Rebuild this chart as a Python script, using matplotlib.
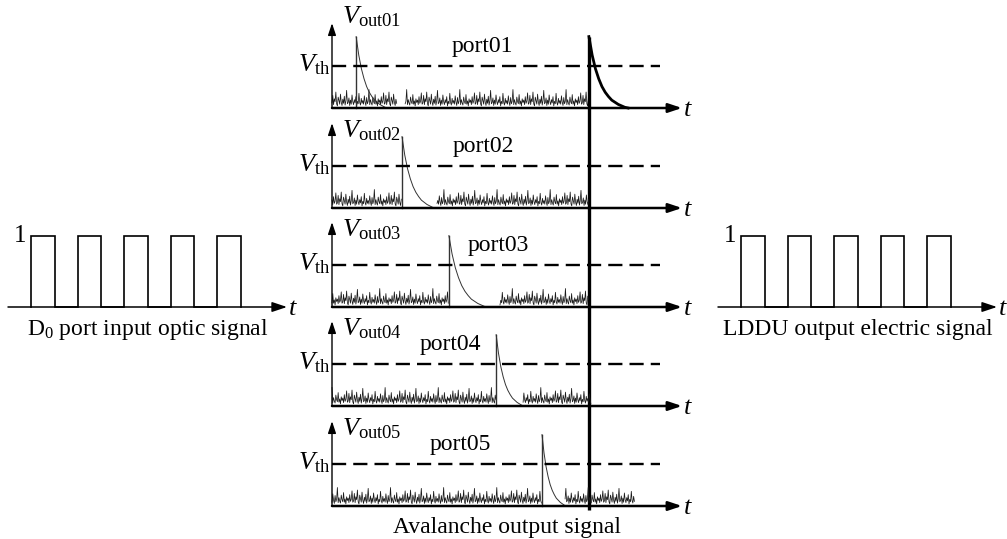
import numpy as np
import matplotlib
matplotlib.use("Agg")
import matplotlib.pyplot as plt

# pulse trains (left: D0 input, right: LDDU output), time in slot units
pulse_starts = [1, 3, 5, 7, 9]
pulse_width = 1.0
pulse_level = 1.0

# avalanche panels
ports = ["port01", "port02", "port03", "port04", "port05"]
spike_times = [0.69, 2.0, 3.34, 4.69, 6.0]
spike_height = 1.7
decay_lengths = [0.9, 0.95, 1.1, 0.8, 0.7]
v_th = 1.0
gate_time = 7.34          # time of the thick gate line
gate_decay_length = 1.12
noise_segments = [
    [(0.0, 1.86), (2.09, 7.34)],
    [(0.0, 2.0), (3.0, 7.34)],
    [(0.0, 3.34), (4.8, 7.34)],
    [(0.0, 4.69), (5.46, 7.4)],
    [(0.0, 6.0), (6.66, 8.66)],
]
port_label_x = [4.29, 4.31, 4.74, 3.37, 3.66]
vout_label_y = [2.02, 1.67, 1.67, 1.67, 1.67]
decay_shape = [1.0, 0.74, 0.55, 0.41, 0.30, 0.22, 0.16, 0.11, 0.08, 0.05, 0.03, 0.01, 0.0]
noise_profile = [0.12, 0.30, 0.08, 0.22, 0.15, 0.38, 0.10, 0.05, 0.26, 0.18, 0.09, 0.33,
                 0.14, 0.06, 0.21, 0.11, 0.28, 0.07, 0.17, 0.42, 0.10, 0.13, 0.24, 0.06,
                 0.19, 0.09, 0.31, 0.15, 0.08, 0.20, 0.12, 0.27, 0.05, 0.16, 0.10, 0.35,
                 0.13, 0.07, 0.23, 0.11, 0.18, 0.09, 0.29, 0.14, 0.06, 0.25, 0.10, 0.16,
                 0.44, 0.08, 0.20, 0.12, 0.07, 0.26, 0.15, 0.10, 0.32, 0.09, 0.17, 0.05,
                 0.22, 0.13, 0.19, 0.08, 0.27, 0.11, 0.16, 0.36, 0.09]

plt.rcParams['font.family'] = ['Liberation Serif']
plt.rcParams['mathtext.fontset'] = 'custom'
plt.rcParams['mathtext.rm'] = 'Liberation Serif'
plt.rcParams['mathtext.it'] = 'Liberation Serif:italic'

W, H = 1007, 539
fig = plt.figure(figsize=(W / 100, H / 100), dpi=100)


def add_px_axes(x0, y_top, w, h):
    # rectangle given in pixels from the top-left corner
    ax = fig.add_axes([x0 / W, 1 - (y_top + h) / H, w / W, h / H])
    ax.set_axis_off()
    return ax


def arrow(ax, x0, y0, x1, y1, lw, ms):
    ax.annotate('', xy=(x1, y1), xytext=(x0, y0),
                arrowprops=dict(arrowstyle='-|>,head_length=0.9,head_width=0.3',
                                lw=lw, color='black', mutation_scale=ms,
                                shrinkA=0, shrinkB=0), annotation_clip=False)


def pulse_panel(x0_px, label):
    unit, vunit, base = 23.25, 71.0, 307
    ax = add_px_axes(x0_px, base - 1.3 * vunit, 13 * unit, 1.8 * vunit)
    ax.set_xlim(0, 13)
    ax.set_ylim(-0.5, 1.3)
    xs, ys = [], []
    for s in pulse_starts:
        xs += [s, s, s + pulse_width, s + pulse_width]
        ys += [0, pulse_level, pulse_level, 0]
    ax.plot(xs, ys, color='black', lw=1.2, solid_joinstyle='miter')
    arrow(ax, 0, 0, 12.0, 0, 1.1, 10)
    ax.text(12.25, -0.03, '$t$', fontsize=19, ha='center', va='center')
    ax.text(0.5, 1.0, '1', fontsize=18, ha='center', va='center')
    ax.text(6.0, -0.32, label, fontsize=17, ha='center', va='center')
    return ax


pulse_panel(8, 'D$_0$ port input optic signal')
pulse_panel(718, 'LDDU output electric signal')

# middle panels
baselines = [108, 208, 307, 406, 506]
tu, vu = 35.0, 42.0
mid_axes = []
for i, port in enumerate(ports):
    b = baselines[i]
    ax = add_px_axes(332 - tu, b - 2.4 * vu, 11.5 * tu, 2.9 * vu)
    ax.set_xlim(-1, 10.5)
    ax.set_ylim(-0.5, 2.4)
    mid_axes.append(ax)

    # noise
    for k, (t0, t1) in enumerate(noise_segments[i]):
        tt = np.arange(t0, t1, 0.022)
        hh = np.resize(np.roll(noise_profile, 7 * i + 23 * k), len(tt))
        ax.plot(tt, hh, color='0.1', lw=0.55)

    # spike and its decay
    ts = spike_times[i]
    ax.plot([ts, ts], [0, spike_height], color='0.2', lw=1.0)
    dt = np.linspace(0, decay_lengths[i], len(decay_shape))
    ax.plot(ts + dt, spike_height * np.array(decay_shape), color='0.2', lw=0.7)

    # threshold
    ax.plot([0, 9.37], [v_th, v_th], color='black', lw=1.7, dashes=(6, 3))

    # axes
    arrow(ax, 0, 0, 10.0, 0, 1.8, 9)
    arrow(ax, 0, 0, 0, 2.02, 1.0, 8)
    ax.text(10.17, -0.05, '$t$', fontsize=19, ha='center', va='center')
    ax.text(0.28, vout_label_y[i], r'$V_{\mathrm{out%s}}$' % port[-2:], fontsize=19,
            ha='left', va='baseline')
    ax.text(-0.04, 0.86, r'$V_{\mathrm{th}}$', fontsize=19, ha='right', va='baseline')
    ax.text(port_label_x[i], 1.33, port, fontsize=17, ha='center', va='baseline')

# gate line crossing all panels and the strong decay in port01
top = mid_axes[0]
bottom_y = -(baselines[4] + 4 - baselines[0]) / vu
top.plot([gate_time, gate_time], [spike_height, bottom_y], color='black', lw=2.4,
         clip_on=False, solid_capstyle='butt')
gd = np.linspace(0, gate_decay_length, len(decay_shape))
top.plot(gate_time + gd, spike_height * np.array(decay_shape), color='black', lw=2.0)

fig.text(507 / W, 1 - 527 / H, 'Avalanche output signal', fontsize=17,
         ha='center', va='center')

fig.savefig('out.png', dpi=100)
